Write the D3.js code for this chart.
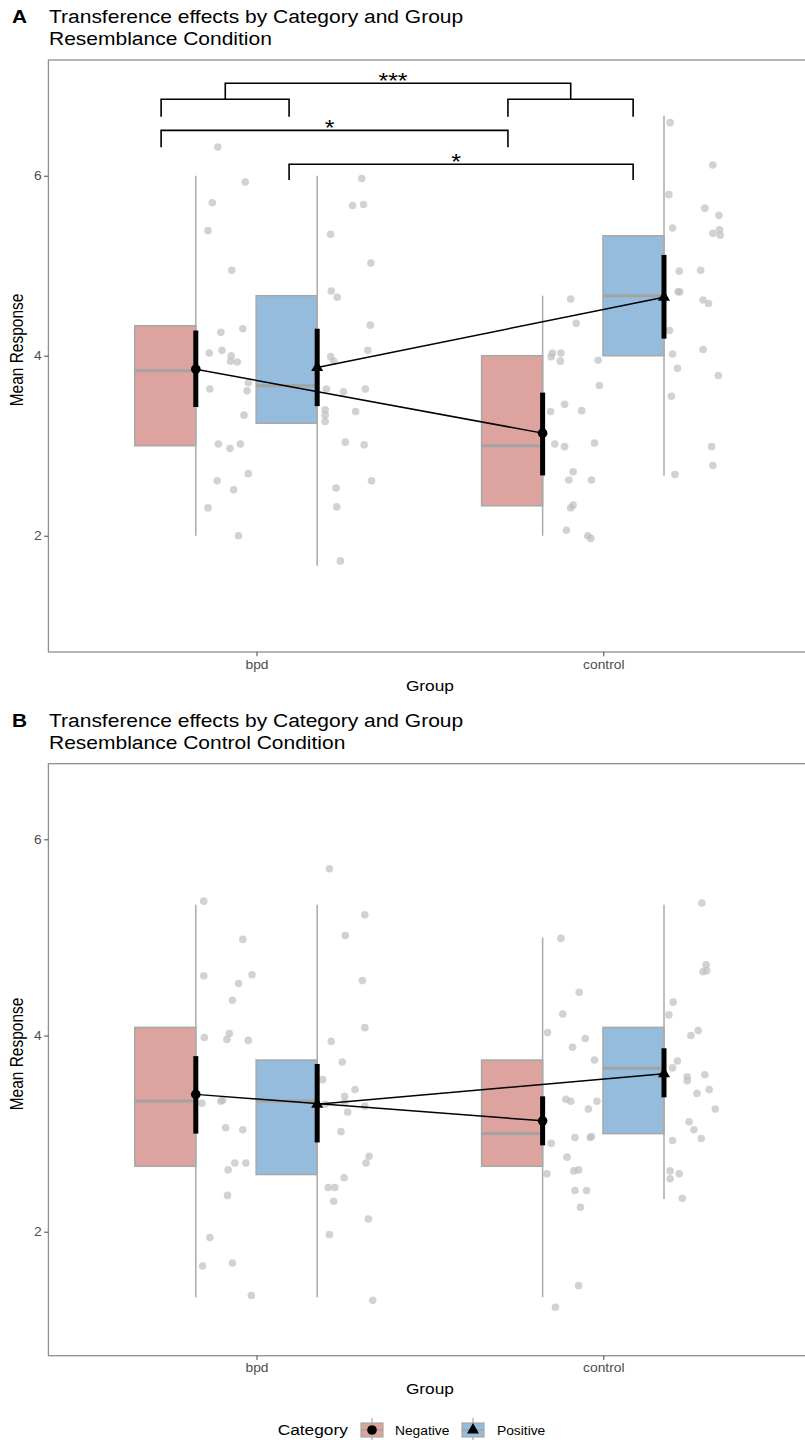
<!DOCTYPE html>
<html>
<head>
<meta charset="utf-8">
<style>
  body { margin: 0; background: #fff; }
  text { font-family: "Liberation Sans", Arial, Helvetica, sans-serif; }
</style>
</head>
<body>
<script src="https://cdn.jsdelivr.net/npm/d3@7/dist/d3.min.js"></script>
<script>
const groups = ["bpd", "control"];
const categories = ["Negative", "Positive"];
const catFill = ["#dca39f", "#95bcdc"];
const yTicks = [2, 4, 6];

// box stats per panel: [group, category, lower whisker, q1, median, q3, upper whisker]
const boxesA = [
  ["bpd", "Negative", 2.0, 3.0, 3.833, 4.333, 6.0],
  ["bpd", "Positive", 1.667, 3.25, 3.667, 4.667, 6.0],
  ["control", "Negative", 2.0, 2.333, 3.0, 4.0, 4.667],
  ["control", "Positive", 2.667, 4.0, 4.667, 5.333, 6.667]
];
const boxesB = [
  ["bpd", "Negative", 1.333, 2.667, 3.333, 4.083, 5.333],
  ["bpd", "Positive", 1.333, 2.583, 3.333, 3.75, 5.333],
  ["control", "Negative", 1.333, 2.667, 3.0, 3.75, 5.0],
  ["control", "Positive", 2.333, 3.0, 3.667, 4.083, 5.333]
];

// means with error bars: [group, category, mean, lower, upper]
const meansA = [
  ["bpd", "Negative", 3.85, 3.43, 4.28],
  ["bpd", "Positive", 3.87, 3.44, 4.30],
  ["control", "Negative", 3.14, 2.67, 3.59],
  ["control", "Positive", 4.65, 4.19, 5.12]
];
const meansB = [
  ["bpd", "Negative", 3.40, 3.00, 3.79],
  ["bpd", "Positive", 3.30, 2.91, 3.71],
  ["control", "Negative", 3.13, 2.88, 3.38],
  ["control", "Positive", 3.61, 3.37, 3.87]
];

// raw points: [jitter (0..1 of half box), value]
const ptsA_bpdNeg = [[0.36,6.32],[0.81,5.93],[0.27,5.70],[0.20,5.39],[0.59,4.95],[0.41,4.26],[0.77,4.30],[0.22,4.03],[0.43,4.06],[0.58,4.00],[0.57,3.94],[0.68,3.93],[0.86,3.70],[0.23,3.63],[0.84,3.61],[0.79,3.34],[0.37,3.02],[0.56,2.97],[0.73,3.02],[0.86,2.69],[0.35,2.61],[0.62,2.51],[0.20,2.31],[0.70,2.00]];
const ptsA_bpdPos = [[0.73,5.97],[0.58,5.67],[0.76,5.68],[0.22,5.35],[0.88,5.03],[0.23,4.72],[0.33,4.65],[0.87,4.34],[0.83,4.06],[0.22,3.99],[0.27,3.94],[0.15,3.63],[0.43,3.60],[0.79,3.63],[0.13,3.40],[0.13,3.34],[0.13,3.27],[0.63,3.38],[0.46,3.04],[0.77,3.01],[0.89,2.61],[0.31,2.53],[0.32,2.32],[0.38,1.72]];
const ptsA_ctlNeg = [[0.46,4.63],[0.55,4.36],[0.16,4.03],[0.30,4.03],[0.14,3.99],[0.29,3.94],[0.91,3.95],[0.93,3.67],[0.36,3.46],[0.13,3.38],[0.64,3.39],[0.20,3.02],[0.36,2.99],[0.85,3.03],[0.50,2.71],[0.43,2.62],[0.80,2.62],[0.50,2.34],[0.46,2.31],[0.39,2.06],[0.74,2.00],[0.79,1.97]];
const ptsA_ctlPos = [[0.10,6.59],[0.80,6.12],[0.08,5.79],[0.67,5.64],[0.90,5.56],[0.91,5.40],[0.80,5.36],[0.92,5.34],[0.14,5.42],[0.25,4.94],[0.60,4.95],[0.23,4.71],[0.26,4.71],[0.64,4.62],[0.73,4.58],[0.09,4.28],[0.14,4.02],[0.64,4.07],[0.22,3.86],[0.89,3.78],[0.12,3.55],[0.78,2.99],[0.80,2.78],[0.18,2.68]];

const ptsB_bpdNeg = [[0.13,5.37],[0.77,4.98],[0.13,4.61],[0.92,4.62],[0.70,4.53],[0.60,4.36],[0.14,3.98],[0.55,4.02],[0.51,3.96],[0.86,3.95],[0.10,3.31],[0.41,3.33],[0.44,3.34],[0.49,3.06],[0.77,3.04],[0.53,2.63],[0.64,2.70],[0.82,2.70],[0.52,2.37],[0.23,1.94],[0.11,1.65],[0.60,1.68],[0.91,1.35]];
const ptsB_bpdPos = [[0.20,5.70],[0.78,5.23],[0.46,5.02],[0.74,4.56],[0.78,4.08],[0.23,3.94],[0.41,3.73],[0.09,3.55],[0.62,3.45],[0.45,3.38],[0.13,3.30],[0.45,3.32],[0.50,3.22],[0.78,3.28],[0.39,3.02],[0.85,2.77],[0.80,2.70],[0.44,2.55],[0.18,2.45],[0.29,2.45],[0.27,2.31],[0.84,2.13],[0.20,1.97],[0.91,1.30]];
const ptsB_ctlNeg = [[0.30,4.99],[0.60,4.44],[0.33,4.22],[0.08,4.03],[0.70,3.97],[0.49,3.88],[0.85,3.75],[0.38,3.35],[0.46,3.33],[0.89,3.33],[0.75,3.25],[0.14,2.90],[0.53,2.96],[0.78,2.96],[0.80,2.97],[0.40,2.76],[0.07,2.59],[0.51,2.62],[0.59,2.63],[0.53,2.42],[0.72,2.42],[0.62,2.25],[0.59,1.45],[0.21,1.23]];
const ptsB_ctlPos = [[0.62,5.35],[0.69,4.72],[0.64,4.65],[0.70,4.66],[0.15,4.34],[0.08,4.21],[0.44,4.00],[0.56,4.05],[0.22,3.74],[0.14,3.67],[0.38,3.58],[0.38,3.54],[0.67,3.60],[0.74,3.45],[0.54,3.41],[0.84,3.25],[0.41,3.12],[0.49,3.04],[0.61,2.95],[0.14,2.93],[0.10,2.62],[0.25,2.59],[0.10,2.54],[0.30,2.34]];

// significance brackets (panel A): [x start, x end, y, tip y, label]
const bracketsA = [
  [0.725, 1.094, 6.85, 6.656, ""],
  [1.725, 2.086, 6.85, 6.656, ""],
  [0.91, 1.906, 7.027, 6.85, "***"],
  [0.725, 1.725, 6.504, 6.316, "*"],
  [1.094, 2.086, 6.127, 5.952, "*"]
];

const W = 805, H = 1440;
const SY = 0.87;           // picture is a little squashed vertically
const dodge = 0.175, halfBox = 0.176;

const svg = d3.select("body").append("svg")
  .attr("width", W).attr("height", H);

const x = d3.scaleLinear().domain([0.4, 2.6]).range([48.4, 811.4]);
const jit = d3.scaleLinear().domain([0, 1]).range([0, halfBox]);

function centre(group, cat) {
  return groups.indexOf(group) + 1 + (categories.indexOf(cat) === 0 ? -dodge : dodge);
}

function addText(parent, px, py, str, o) {
  const t = parent.append("text")
    .attr("transform", "translate(" + px + "," + py + ") scale(1," + SY + ")" + (o.rotate ? " rotate(-90)" : ""))
    .attr("text-anchor", o.anchor || "start")
    .style("font-size", o.size + "px")
    .attr("fill", o.color || "#000")
    .text(str);
  if (o.bold) t.style("font-weight", "bold");
  return t;
}

const triangle = d3.symbol().type(d3.symbolTriangle).size(62);

function drawPanel(p) {
  const g = svg.append("g");
  const y = d3.scaleLinear().domain(p.yDomain).range([p.bottom, p.top]);

  // titles
  addText(g, 12, p.titleBase, p.letter, { size: 20.8, bold: true });
  addText(g, 49, p.titleBase, "Transference effects by Category and Group", { size: 21 });
  addText(g, 49, p.titleBase + 21.7, p.subtitle, { size: 21 });

  // half boxes
  p.boxes.forEach(function (b) {
    const c = centre(b[0], b[1]);
    const fill = catFill[categories.indexOf(b[1])];
    g.append("rect")
      .attr("x", x(c - halfBox)).attr("y", y(b[5]))
      .attr("width", x(c) - x(c - halfBox)).attr("height", y(b[3]) - y(b[5]))
      .attr("fill", fill).attr("stroke", "#a8a8a8").attr("stroke-width", 1.5);
    g.append("line")
      .attr("x1", x(c)).attr("x2", x(c)).attr("y1", y(b[2])).attr("y2", y(b[6]))
      .attr("stroke", "#ababab").attr("stroke-width", 1.5);
    g.append("line")
      .attr("x1", x(c - halfBox)).attr("x2", x(c)).attr("y1", y(b[4])).attr("y2", y(b[4]))
      .attr("stroke", "#a3a3a3").attr("stroke-width", 3);
  });

  // jittered raw points
  p.points.forEach(function (set) {
    const c = centre(set.group, set.cat);
    g.selectAll(null).data(set.values).enter().append("circle")
      .attr("cx", d => x(c + jit(d[0])))
      .attr("cy", d => y(d[1]))
      .attr("r", 3.8)
      .attr("fill", "#bdbdbd").attr("fill-opacity", 0.68);
  });

  // mean lines by category
  categories.forEach(function (cat) {
    const m = p.means.filter(d => d[1] === cat);
    g.append("path")
      .attr("d", d3.line().x(d => x(centre(d[0], d[1]))).y(d => y(d[2]))(m))
      .attr("fill", "none").attr("stroke", "#000").attr("stroke-width", 1.5);
  });

  // error bars and mean markers
  p.means.forEach(function (m) {
    const c = centre(m[0], m[1]);
    g.append("line")
      .attr("x1", x(c)).attr("x2", x(c)).attr("y1", y(m[3])).attr("y2", y(m[4]))
      .attr("stroke", "#000").attr("stroke-width", 5);
    if (m[1] === "Negative") {
      g.append("circle").attr("cx", x(c)).attr("cy", y(m[2])).attr("r", 4.8).attr("fill", "#000");
    } else {
      g.append("path").attr("d", triangle())
        .attr("transform", "translate(" + x(c) + "," + y(m[2]) + ")")
        .attr("fill", "#000");
    }
  });

  // significance brackets
  (p.brackets || []).forEach(function (b) {
    g.append("path")
      .attr("d", d3.line()([[x(b[0]), y(b[3])], [x(b[0]), y(b[2])], [x(b[1]), y(b[2])], [x(b[1]), y(b[3])]]))
      .attr("fill", "none").attr("stroke", "#000").attr("stroke-width", 1.6);
    if (b[4]) {
      addText(g, x((b[0] + b[1]) / 2) - 5, y(b[2]) + 5, b[4], { size: 25, anchor: "middle" });
    }
  });

  // panel border
  g.append("rect")
    .attr("x", x(0.4)).attr("y", p.top)
    .attr("width", x(2.6) - x(0.4)).attr("height", p.bottom - p.top)
    .attr("fill", "none").attr("stroke", "#8f8f8f").attr("stroke-width", 1.3);

  // axes
  const ya = g.append("g").attr("transform", "translate(" + x(0.4) + ",0)")
    .call(d3.axisLeft(y).tickValues(yTicks).tickFormat(d3.format("d")).tickSize(4.3).tickPadding(2.5));
  ya.select(".domain").remove();
  ya.selectAll(".tick line").attr("stroke", "#333").attr("stroke-width", 0.9);
  ya.selectAll(".tick text").attr("fill", "#4d4d4d")
    .style("font-size", "13.8px").attr("transform", "scale(1," + SY + ")");

  const xa = g.append("g").attr("transform", "translate(0," + p.bottom + ")")
    .call(d3.axisBottom(x).tickValues([1, 2]).tickFormat(d => groups[d - 1]).tickSize(4.3).tickPadding(3));
  xa.select(".domain").remove();
  xa.selectAll(".tick line").attr("stroke", "#333").attr("stroke-width", 0.9);
  xa.selectAll(".tick text").attr("fill", "#4d4d4d")
    .style("font-size", "13.8px").attr("transform", "scale(1," + SY + ")").attr("y", 9.5);

  addText(g, x(1.5), p.bottom + 38.5, "Group", { size: 17.3, anchor: "middle" });
  addText(g, 23, p.ylabMid, "Mean Response", { size: 17.8, anchor: "middle", rotate: true });
}

drawPanel({
  letter: "A", subtitle: "Resemblance Condition", titleBase: 23.3,
  top: 60, bottom: 652, yDomain: [0.708, 7.286], ylabMid: 350,
  boxes: boxesA, means: meansA, brackets: bracketsA,
  points: [
    { group: "bpd", cat: "Negative", values: ptsA_bpdNeg },
    { group: "bpd", cat: "Positive", values: ptsA_bpdPos },
    { group: "control", cat: "Negative", values: ptsA_ctlNeg },
    { group: "control", cat: "Positive", values: ptsA_ctlPos }
  ]
});

drawPanel({
  letter: "B", subtitle: "Resemblance Control Condition", titleBase: 727,
  top: 763.7, bottom: 1355.7, yDomain: [0.736, 6.771], ylabMid: 1054,
  boxes: boxesB, means: meansB,
  points: [
    { group: "bpd", cat: "Negative", values: ptsB_bpdNeg },
    { group: "bpd", cat: "Positive", values: ptsB_bpdPos },
    { group: "control", cat: "Negative", values: ptsB_ctlNeg },
    { group: "control", cat: "Positive", values: ptsB_ctlPos }
  ]
});

// legend
const lg = svg.append("g");
addText(lg, 277.7, 1435, "Category", { size: 17.3 });
const keyX = [361, 462], labX = [395, 497];
categories.forEach(function (cat, i) {
  const kx = keyX[i], cx = kx + 11;
  lg.append("line").attr("x1", cx).attr("x2", cx).attr("y1", 1418).attr("y2", 1442)
    .attr("stroke", "#ababab").attr("stroke-width", 1.2);
  lg.append("rect").attr("x", kx).attr("y", 1423).attr("width", 22).attr("height", 14)
    .attr("fill", catFill[i]).attr("stroke", "#a8a8a8").attr("stroke-width", 1.2);
  lg.append("line").attr("x1", kx).attr("x2", kx + 22).attr("y1", 1430).attr("y2", 1430)
    .attr("stroke", "#a3a3a3").attr("stroke-width", 1.5);
  if (i === 0) {
    lg.append("circle").attr("cx", cx).attr("cy", 1430).attr("r", 4.8).attr("fill", "#000");
  } else {
    lg.append("path").attr("d", triangle()).attr("transform", "translate(" + cx + ",1430)").attr("fill", "#000");
  }
  addText(lg, labX[i], 1435, cat, { size: 13.8 });
});
</script>
</body>
</html>
